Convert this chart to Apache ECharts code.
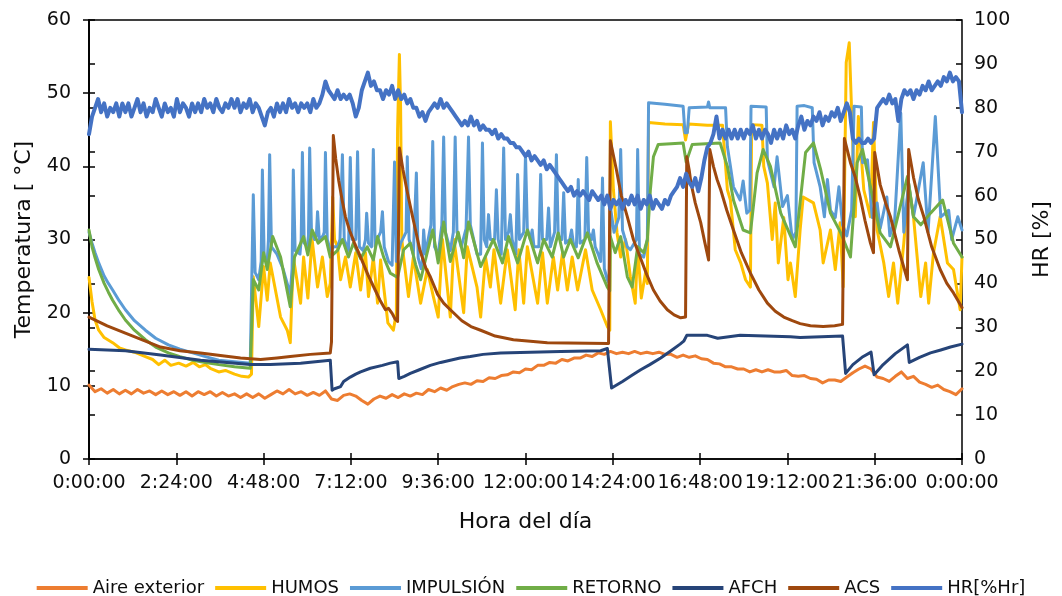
<!DOCTYPE html>
<html><head><meta charset="utf-8">
<script src="https://cdn.jsdelivr.net/npm/echarts/dist/echarts.min.js"></script>
<style>html,body{margin:0;padding:0;background:#fff}#c{width:1062px;height:596px}</style>
</head><body><div id="c"></div>
<script>
// time in minutes since 0:00
const xTicksStep = 144;
const seriesNames = ['Aire exterior','HUMOS','IMPULSIÓN','RETORNO','AFCH','ACS','HR[%Hr]'];

// Aire exterior, every 10 minutes
const aireValues = [
10.1,9.2,9.6,9.0,9.5,8.9,
9.4,8.9,9.5,9.0,9.3,8.8,
9.3,8.8,9.2,8.7,9.2,8.6,
9.2,8.8,9.2,8.6,9.1,8.6,
8.9,8.4,8.9,8.4,8.9,8.3,
8.8,9.3,8.9,9.5,8.9,9.2,
8.7,9.1,8.7,9.3,8.2,8.0,
8.7,8.9,8.6,8.0,7.5,8.2,
8.6,8.3,8.8,8.4,8.9,8.6,
9.0,8.8,9.5,9.2,9.7,9.4,
9.9,10.2,10.4,10.2,10.7,10.6,
11.1,11.0,11.4,11.5,11.9,11.8,
12.3,12.2,12.8,12.8,13.2,13.1,
13.6,13.4,13.8,13.8,14.2,14.0,
14.5,14.3,14.7,14.4,14.6,14.4,
14.7,14.4,14.6,14.4,14.6,14.3,
14.3,13.9,14.2,13.9,14.1,13.7,
13.6,13.1,13.0,12.6,12.6,12.3,
12.3,11.9,12.2,11.9,12.2,11.9,
11.9,12.1,11.4,11.3,11.4,11.0,
10.9,10.4,10.8,10.8,10.6,11.2,
11.8,12.3,12.7,12.3,11.2,11.0,
10.6,11.3,11.9,11.0,11.3,10.5,
10.2,9.8,10.1,9.5,9.2,8.8,
9.6];

const humos = [[0,24.8],[5,21.5],[10,19],[16,17.6],[25,16.6],[39,15.9],[50,15.2],[60,14.9],[75,14.6],[93,14.0],[105,13.6],[115,12.9],[125,13.5],[135,12.8],[148,13.1],[160,12.7],[172,13.2],[182,12.6],[192,12.9],[200,12.4],[214,11.9],[225,12.1],[240,11.6],[252,11.3],[263,11.2],[268,11.6],
[271,24.9],[280,18.1],[288,26.3],[294,21.7],[299,26.8],[316,19.4],[327,17.6],[332,15.9],[337,27.6],[349,21.3],[354,27.6],[361,22],[368,30],[377,23.5],[385,27.6],[393,22.2],[398,24],[402,35.8],[405,30],[410,29],[415,24.5],[423,27.6],[431,23.5],[440,28.2],[448,23.1],[456,28.2],[461,22.2],[469,27.6],[476,21.3],[481,27.2],[493,18.6],[502,17.6],[507,20],[509,45],[512,55.3],[514,48],[516,30],[519,27.6],[527,22.2],[535,27.6],[547,21.3],[558,25.9],[568,22.2],[576,19.4],[583,30],[596,19.4],[602,30],[618,20],[624,29],[640,23.5],[646,19.4],[654,27.6],[662,23.5],[668,28.6],[679,21.3],[690,28.6],[703,20.4],[709,28.6],[717,21.3],[723,29],[740,21.3],[748,28.2],[756,21.3],[766,27.6],[773,23.1],[781,28.2],[789,23.1],[797,27.6],[806,23.1],[819,28.6],[830,23.1],[844,20.4],[855,18.1],[859,17.6],
[860,46.1],[865,36.8],[871,30.9],[877,27.6],[885,30],[893,24.9],[901,21.3],[905,29],[911,22],[918,25.5],[921,24],[923,46.0],[950,45.8],[980,45.7],[984,43.6],[989,45.8],[1020,45.6],[1045,45.6],[1053,36.8],[1058,35.4],[1066,28.6],[1075,26.8],[1083,24.5],[1091,23.5],[1093,45.7],[1110,45.6],[1113,40],[1119,37.7],[1127,30],[1132,35],[1137,26.8],[1146,33],[1153,24.5],[1157,26.8],[1165,22.2],[1173,31.3],[1178,35.8],[1195,35],[1206,31.3],[1211,26.8],[1223,31.3],[1231,25.9],[1239,32.3],[1244,23.5],[1249,54.2],[1254,56.9],[1259,45],[1264,33.1],[1269,46.8],[1278,36.8],[1289,33.1],[1294,46],[1300,31.3],[1311,26.8],[1319,22.2],[1327,26.8],[1334,21.3],[1344,29.5],[1352,37.7],[1360,33.1],[1372,22.2],[1380,26.8],[1385,21.3],[1393,28.2],[1404,33.1],[1416,26.8],[1426,25.9],[1437,20.4],[1440,27.6]];

const impulsion = [[0,31.0],[5,29.5],[10,28.2],[16,26.8],[25,25],[32,24],[39,23.1],[50,21.6],[60,20.4],[75,18.9],[93,17.6],[110,16.5],[131,15.6],[150,15],[171,14.5],[192,14],[214,13.5],[240,13.3],[266,13.1],[269,13.3],
[271,36.1],[274,25.5],[280,24.5],[284,27],[286,39.5],[289,27.5],[294,27],[296,30],[298,41.6],[301,29],[310,28],[320,26],[332,22.5],[335,26],[337,39.5],[340,28.5],[348,28],[350,30],[352,41.9],[355,29.5],[360,29],[362,30.5],[364,42.5],[367,31],[372,30],[375,30.5],[377,33.8],[380,30],[386,30.5],[388,31],[390,41.9],[393,30],[398,28.5],[404,29],[410,29],[414,30],[418,41.6],[421,30],[428,28.5],[431,41.2],[434,30],[440,30],[443,42.0],[446,29],[452,28.5],[456,30],[458,33.6],[461,29.5],[466,29],[469,42.3],[472,29],[478,30.5],[481,31],[484,33.8],[487,29],[494,27],[500,26.5],[504,40.6],[507,27],[514,29.5],[520,30.5],[523,31],[525,41.3],[528,30],[535,28],[538,28],[540,39.1],[543,27.5],[548,26],[550,27],[552,31.3],[555,28],[564,32],[567,43.4],[570,29],[576,28],[582,32],[585,44.0],[588,31],[596,28.5],[601,31],[604,44.0],[607,31],[614,29],[622,31.5],[626,44.0],[629,32],[640,28],[646,28],[649,43.2],[652,30],[656,29],[659,33.4],[662,30],[669,30],[672,36.8],[675,30],[680,28],[684,42.5],[687,30],[692,31],[695,33.4],[698,30],[704,28],[707,38.9],[710,30],[717,31],[720,41.6],[723,31.5],[728,30],[731,31.3],[734,29],[742,29],[745,38.9],[748,30],[755,30],[758,34.3],[761,29],[768,31],[771,41.6],[774,30.5],[780,30],[783,36.4],[786,29.5],[793,30],[796,31.3],[799,29.5],[804,29],[807,38.2],[810,29.5],[818,30],[821,41.2],[824,31],[829,30],[832,31.3],[835,29],[840,28],[844,27],[847,38.4],[850,26],[855,24.5],[858,24],
[860,34.5],[866,31],[874,33],[877,42.3],[880,31.3],[888,29],[893,28.6],[903,30],[905,42.3],[908,28],[915,27.6],[921,30],[923,48.7],[950,48.5],[980,48.2],[983,44.6],[987,44.6],[990,48.0],[1020,48.1],[1022,48.8],[1024,48.0],[1050,48.0],[1053,42.7],[1058,40],[1063,37.2],[1074,35.4],[1079,38],[1085,33.6],[1090,34],[1092,48.2],[1117,48.1],[1119,40.9],[1130,37.2],[1135,41.3],[1144,34.5],[1152,36],[1160,30],[1166,31],[1168,48.2],[1180,48.3],[1193,48.0],[1196,40.5],[1206,37.2],[1213,33.1],[1218,38.2],[1223,34],[1231,33],[1237,37.2],[1243,32],[1250,30.5],[1258,34],[1262,48.2],[1274,48.1],[1276,40.5],[1284,40.9],[1292,33],[1300,35],[1305,31.5],[1316,35.8],[1321,30.5],[1329,32.7],[1339,47.3],[1344,31],[1352,37.7],[1360,33.1],[1376,40.5],[1384,31],[1396,46.8],[1405,33.1],[1418,34],[1423,30],[1433,33.1],[1440,31.3]];

const retorno = [[0,31.3],[5,29],[10,27.5],[16,25.9],[25,24],[32,22.8],[39,21.7],[50,20.2],[60,19.0],[75,17.6],[93,16.3],[110,15.3],[131,14.5],[150,14],[171,13.5],[192,13.2],[214,12.9],[240,12.6],[266,12.4],[269,12.6],
[271,24.5],[280,23.1],[288,28.2],[294,25.9],[303,30.4],[316,27.6],[332,20.8],[339,27.6],[354,30.4],[361,27.9],[368,31.3],[378,29.5],[390,30.4],[398,27.6],[410,28.5],[418,30.0],[428,27.6],[436,29.5],[448,27.4],[459,29.0],[469,27.2],[476,30.4],[486,27.6],[497,25.4],[509,24.8],[519,28.6],[530,29.5],[539,26.5],[547,24.5],[567,31.3],[576,26.8],[585,32.4],[596,27.0],[609,31.0],[618,27.5],[626,32.4],[646,26.3],[667,30.0],[682,26.8],[692,30.4],[707,26.8],[723,31.3],[740,26.8],[750,30.0],[764,27.6],[774,30.9],[783,27.6],[794,30.0],[807,27.5],[822,30.9],[838,26.8],[855,23.5],[859,23.0],
[860,30.4],[868,28.2],[877,30.4],[888,24.9],[896,23.5],[905,29],[915,28.2],[921,30],[926,36.8],[931,41.3],[939,43.0],[960,43.1],[980,43.2],[985,40.6],[995,43.0],[1041,43.2],[1053,40],[1063,35.4],[1079,31.3],[1091,30.9],[1102,39.1],[1112,42.3],[1124,40],[1141,33.6],[1165,29],[1182,41.9],[1195,43.2],[1207,39.5],[1223,33.6],[1240,30.9],[1256,27.6],[1267,40.5],[1276,42.3],[1289,37.2],[1305,30.9],[1322,29],[1350,38.6],[1360,33.1],[1372,32],[1388,33.6],[1408,35.4],[1426,29.5],[1440,27.6]];

const afch = [[0,15.0],[60,14.8],[118,14.2],[184,13.5],[266,12.9],[299,12.9],[349,13.1],[398,13.5],[401,9.4],[405,9.6],[415,9.9],[420,10.6],[431,11.2],[440,11.6],[448,11.9],[464,12.4],[484,12.8],[497,13.1],[509,13.3],[511,11.0],[520,11.3],[530,11.7],[545,12.2],[563,12.8],[580,13.2],[596,13.5],[612,13.8],[629,14.0],[650,14.3],[679,14.5],[728,14.6],[778,14.7],[844,14.8],[855,15.1],[862,9.7],[880,10.6],[895,11.4],[910,12.2],[925,12.9],[943,13.8],[960,14.8],[975,15.7],[981,16.1],[986,16.9],[1020,16.9],[1037,16.5],[1074,16.9],[1157,16.7],[1173,16.6],[1243,16.8],[1248,11.7],[1260,12.9],[1275,13.9],[1290,14.6],[1295,11.5],[1310,12.9],[1330,14.4],[1350,15.6],[1353,13.2],[1370,13.9],[1388,14.5],[1405,14.9],[1421,15.3],[1440,15.7]];

const acs = [[0,19.4],[30,18.2],[60,17.2],[90,16.2],[118,15.3],[150,14.8],[184,14.5],[220,14.1],[250,13.8],[283,13.6],[310,13.8],[332,14.0],[365,14.3],[398,14.5],[400,16],[403,44.2],[407,41],[412,38],[418,35.2],[423,33.1],[430,31.2],[438,29.5],[448,27.6],[460,25.2],[472,23.1],[480,21.7],[489,20.4],[494,20.6],[500,19.9],[505,19.1],[509,18.8],
[512,42.5],[518,39.5],[525,36.5],[534,33],[546,28.5],[556,26],[563,24.9],[575,22.5],[585,21.3],[596,20.4],[615,18.9],[630,18.1],[646,17.6],[670,16.8],[700,16.3],[756,15.9],[857,15.8],
[860,43.5],[863,43.6],[870,39.5],[878,36],[888,33.1],[898,30],[909,27.6],[920,25.2],[931,23.1],[942,21.6],[954,20.4],[965,19.7],[976,19.3],[984,19.4],
[986,41.3],[990,39.5],[993,37.7],[1000,35],[1009,32.3],[1016,29.5],[1022,27.2],
[1024,42.3],[1030,40],[1036,38.2],[1042,36.8],[1052,34],[1063,31.3],[1076,28.2],[1091,25.4],[1105,23.1],[1119,21.3],[1132,20.2],[1146,19.4],[1160,18.9],[1173,18.5],[1190,18.2],[1211,18.1],[1230,18.2],[1243,18.4],
[1246,43.8],[1250,42.5],[1256,40.5],[1264,38.5],[1272,35.8],[1280,32.6],[1289,29.5],[1294,28.2],
[1296,41.9],[1305,37.5],[1314,35],[1322,33.1],[1336,28.5],[1350,24.5],
[1352,42.3],[1360,38.5],[1368,35.5],[1377,33.1],[1390,29],[1404,25.9],[1415,24],[1426,22.7],[1440,20.7]];

// HR, every 5 minutes
const hrValues = [
74,78,80,82,79,81,78,80,79,81,78,81,
79,81,78,80,82,79,81,78,80,79,82,80,
78,81,79,80,78,82,79,81,80,78,81,79,
81,79,82,80,81,79,82,80,79,81,80,82,
80,82,79,81,80,82,79,81,80,78,76,79,
80,78,81,79,81,79,82,80,81,79,81,80,
81,79,82,80,81,83,86,84,83,82,84,82,
83,82,83,81,78,80,84,86,88,85,86,84,
84,82,84,83,85,82,84,82,83,81,82,80,
80,78,79,77,79,80,81,80,82,80,81,80,
79,78,77,76,77,76,78,76,77,75,76,75,
75,74,75,73,74,73,73,72,72,71,71,70,
69,70,68,69,68,67,68,66,67,66,65,64,
63,62,61,62,60,61,60,61,60,59,61,60,
59,60,58,60,57,59,58,59,57,59,58,60,
58,60,57,59,58,60,57,59,58,57,59,58,
60,61,62,64,62,65,63,62,64,61,64,68,
71,72,74,78,73,75,73,75,73,75,73,75,
73,75,74,76,73,75,73,75,74,72,75,73,
75,73,76,74,75,73,76,78,75,77,76,78,
77,79,76,78,77,79,78,80,77,79,81,79,
73,72,73,72,72,73,72,73,80,81,82,81,
83,81,82,77,82,84,83,84,82,84,83,85,
84,86,84,85,86,85,87,86,88,86,87,86,
79];

const aire = aireValues.map((v,i)=>[i*10,v]);
const hr = hrValues.map((v,i)=>[i*5,v]);

const colors = ['#ED7D31','#FFC000','#5B9BD5','#70AD47','#264478','#9E480E','#4472C4'];
const fmt = v => { const m = v % 1440; const h = Math.floor(m/60); const mm = m % 60; return h + ':' + String(mm).padStart(2,'0') + ':00'; };
const txt = '#0d0d0d';
const font = 'DejaVu Sans';

const chart = echarts.init(document.getElementById('c'));
const mk = (name, data, color, width, yi) => ({
  name, type:'line', data, xAxisIndex:0, yAxisIndex: yi || 0, showSymbol:false, symbol:'none',
  lineStyle:{color, width, join:'round', cap:'round'}, itemStyle:{color}, animation:false
});
const axisCommon = {
  axisLine:{show:true, lineStyle:{color:'#000', width:1.5}},
  axisTick:{show:true, length:6, lineStyle:{color:'#000', width:1.5}},
  splitLine:{show:false}
};
// inner half of the crossing tick marks
const innerTicks = {
  axisLine:{show:false},
  axisLabel:{show:false},
  axisTick:{show:true, inside:true, length:6, lineStyle:{color:'#000', width:1.5}},
  splitLine:{show:false}
};
chart.setOption({
  animation:false,
  color: colors,
  textStyle:{fontFamily:font},
  grid:{left:89, right:100, top:20, bottom:137, show:true, borderColor:'#000', borderWidth:1.5},
  legend:{
    top:574, left:'center', icon:'rect', itemWidth:51, itemHeight:4, itemGap:11,
    textStyle:{fontSize:18, color:txt, fontFamily:font},
    data: seriesNames
  },
  xAxis:[
    Object.assign({
      type:'value', min:0, max:1440, interval:xTicksStep,
      name:'Hora del día', nameLocation:'middle', nameGap:52,
      nameTextStyle:{fontSize:22, color:txt, fontFamily:font},
      axisLabel:{formatter:fmt, fontSize:19, color:txt, margin:15, fontFamily:font}
    }, axisCommon),
    Object.assign({type:'value', min:0, max:1440, interval:xTicksStep, position:'bottom'}, innerTicks)
  ],
  yAxis:[
    Object.assign({type:'value', min:0, max:60, interval:10, position:'left',
     name:'Temperatura [ °C]', nameLocation:'middle', nameGap:54,
     nameTextStyle:{fontSize:22, color:txt, fontFamily:font},
     axisLabel:{fontSize:19, color:txt, margin:18, fontFamily:font}}, axisCommon),
    Object.assign({type:'value', min:0, max:100, interval:10, position:'right',
     name:'HR [%]', nameLocation:'middle', nameGap:69,
     nameTextStyle:{fontSize:22, color:txt, fontFamily:font},
     axisLabel:{fontSize:19, color:txt, margin:12, fontFamily:font}}, axisCommon),
    Object.assign({type:'value', min:0, max:60, interval:10, position:'left'}, innerTicks),
    Object.assign({type:'value', min:0, max:100, interval:10, position:'right'}, innerTicks)
  ],
  series:[
    mk(seriesNames[0], aire, colors[0], 3),
    mk(seriesNames[1], humos, colors[1], 3),
    mk(seriesNames[2], impulsion, colors[2], 3),
    mk(seriesNames[3], retorno, colors[3], 3),
    mk(seriesNames[4], afch, colors[4], 3),
    mk(seriesNames[5], acs, colors[5], 3),
    mk(seriesNames[6], hr, colors[6], 4, 1)
  ]
});
</script></body></html>
